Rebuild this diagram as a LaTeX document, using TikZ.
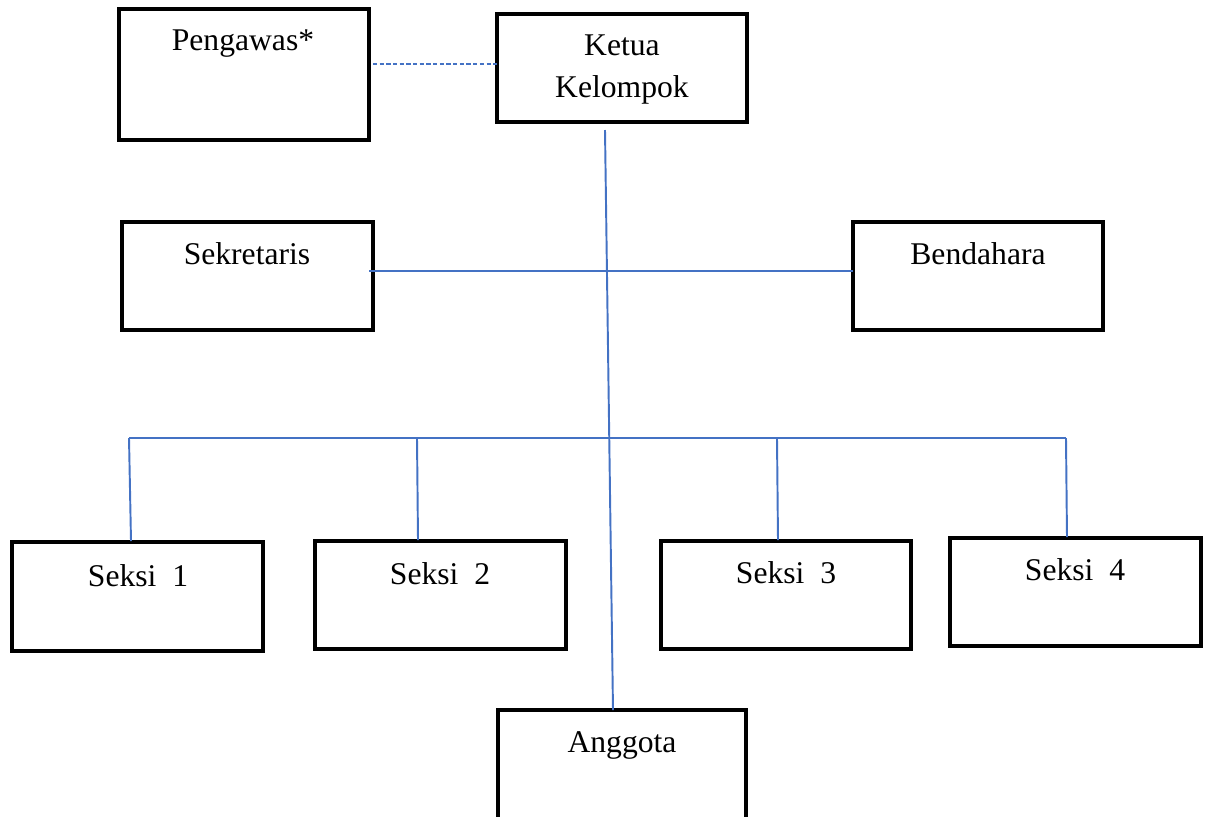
\documentclass[tikz,border=0pt]{standalone}
\usepackage{fontspec}
\setmainfont{Liberation Serif}
\definecolor{lineblue}{HTML}{4472C4}
\begin{document}
\begin{tikzpicture}[x=0.02cm,y=-0.02cm,
  orgbox/.style={draw=black, line width=2.4pt, rectangle, inner sep=0pt, fill=none},
  txt/.style={anchor=base, inner sep=0pt, font=\fontsize{18}{22}\selectfont},
  conn/.style={draw=lineblue, line width=1.1pt},
  dashconn/.style={draw=lineblue, line width=1.1pt, dash pattern=on 2.4pt off 1.4pt}]
\useasboundingbox (0,0) rectangle (1205,816);
\clip (0,0) rectangle (1205,816);
% boxes
\node[orgbox, minimum width=5cm, minimum height=2.62cm] (peng) at (244,74.5) {};
\node[orgbox, minimum width=5cm, minimum height=2.16cm] (ket) at (622,68) {};
\node[orgbox, minimum width=5.02cm, minimum height=2.16cm] (sek) at (247.5,276) {};
\node[orgbox, minimum width=5cm, minimum height=2.16cm] (ben) at (978,276) {};
\node[orgbox, minimum width=5.02cm, minimum height=2.18cm] (s1) at (137.5,596.5) {};
\node[orgbox, minimum width=5.02cm, minimum height=2.16cm] (s2) at (440.5,595) {};
\node[orgbox, minimum width=5cm, minimum height=2.16cm] (s3) at (786,595) {};
\node[orgbox, minimum width=5.02cm, minimum height=2.16cm] (s4) at (1075.5,592) {};
\node[orgbox, minimum width=4.96cm, minimum height=2.6cm] (ang) at (622,775) {};
% texts
\node[txt] (tpeng) at (243,50) {Pengawas*};
\node[txt] (tket1) at (622,55) {Ketua};
\node[txt] (tket2) at (622,97) {Kelompok};
\node[txt] (tsek) at (247,264) {Sekretaris};
\node[txt] (tben) at (978,264) {Bendahara};
\node[txt] (ts1) at (138,586) {Seksi\ \ 1};
\node[txt] (ts2) at (440,584) {Seksi\ \ 2};
\node[txt] (ts3) at (786,583) {Seksi\ \ 3};
\node[txt] (ts4) at (1075,580) {Seksi\ \ 4};
\node[txt] (tang) at (622,752) {Anggota};
% connector coordinates
\coordinate (dA) at (373,64);
\coordinate (dB) at (498,64);
\coordinate (vTop) at (605,130);
\coordinate (vBot) at (613,710);
\coordinate (hL) at (369,271);
\coordinate (hR) at (853,271);
\coordinate (b1) at (129,438);
\coordinate (b2) at (417,438);
\coordinate (b3) at (777,438);
\coordinate (b4) at (1066,438);
\coordinate (e1) at (131,541);
\coordinate (e2) at (418,540);
\coordinate (e3) at (778,540);
\coordinate (e4) at (1067,537);
% connectors
\draw[dashconn] (dA) -- (dB);
\draw[conn] (vTop) -- (vBot);
\draw[conn] (hL) -- (hR);
\draw[conn] (b1) -- (b4);
\draw[conn] (b1) -- (e1);
\draw[conn] (b2) -- (e2);
\draw[conn] (b3) -- (e3);
\draw[conn] (b4) -- (e4);
\end{tikzpicture}
\end{document}
